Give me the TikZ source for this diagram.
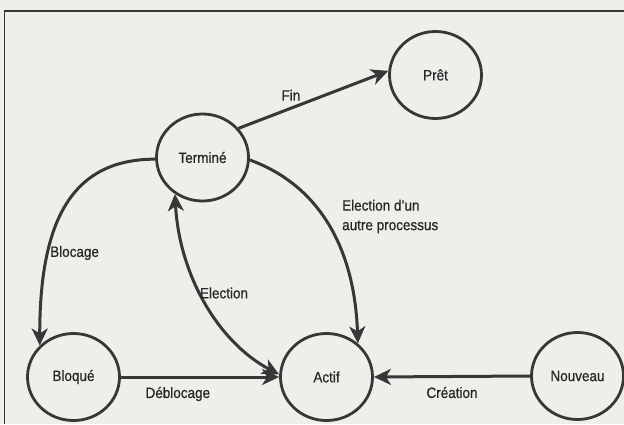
\documentclass[tikz,border=0pt]{standalone}
\usepackage{fontspec}
\setmainfont{Liberation Sans}[FakeStretch=0.9,FakeBold=0.6]
\usetikzlibrary{shapes.geometric,arrows.meta}
\definecolor{paper}{RGB}{238,238,234}
\definecolor{ink}{RGB}{55,55,55}
\definecolor{txt}{RGB}{38,38,38}
\newcommand{\lblfont}{\fontsize{15}{19.5}\selectfont}
\begin{document}
\begin{tikzpicture}[x=1pt,y=1pt,
  state/.style={ellipse,draw=ink,line width=2.8pt,minimum width=92pt,minimum height=87pt,inner sep=0pt,text=txt,font=\lblfont},
  tip/.tip={Stealth[length=17pt,width=16pt,inset=5pt]},
  edge/.style={draw=ink,line width=3pt,-tip},
  lbl/.style={text=txt,font=\lblfont,inner sep=0pt},
  frame/.style={draw=ink,line width=1.4pt}]
\useasboundingbox (0,0) rectangle (624,424);
\clip (0,0) rectangle (624,424);
\fill[paper] (0,0) rectangle (624,424);
\draw[frame] (624,413) -- (4.5,413) -- (4.5,0);

\node[state] (P) at (435.5,349) {Prêt};
\node[state] (T) at (202.5,266.5) {Terminé};
\node[state] (B) at (73.5,47) {Bloqué};
\node[state] (A) at (326.5,47) {Actif};
\node[state] (N) at (577.5,48) {Nouveau};

\draw[edge] (T.39) -- node[lbl,pos=0.35,yshift=13pt] (lfin) {Fin} (P.175);
\draw[edge] (T.182) .. controls +(-84,0) and +(0,124) .. (B.137);
\node[lbl,anchor=west] (lbloc) at (50,171) {Blocage};
\draw[edge] (T.-3) .. controls +(-20:70) and +(92:100) .. (A.47);
\node[lbl,anchor=west,align=left] (lautre) at (342,207.5) {Election d'un\\autre processus};
\draw[edge,tip-tip] (T.233) .. controls +(-87:80) and +(152:70) .. (A.177);
\node[lbl] (lelec) at (224,131) {Election};
\draw[edge] (B.0) -- node[lbl,pos=0.36,yshift=-17pt] (ldeb) {Déblocage} (A.180);
\draw[edge] (N.180) -- node[lbl,pos=0.5,yshift=-16pt] (lcre) {Création} (A.0);
\end{tikzpicture}
\end{document}
